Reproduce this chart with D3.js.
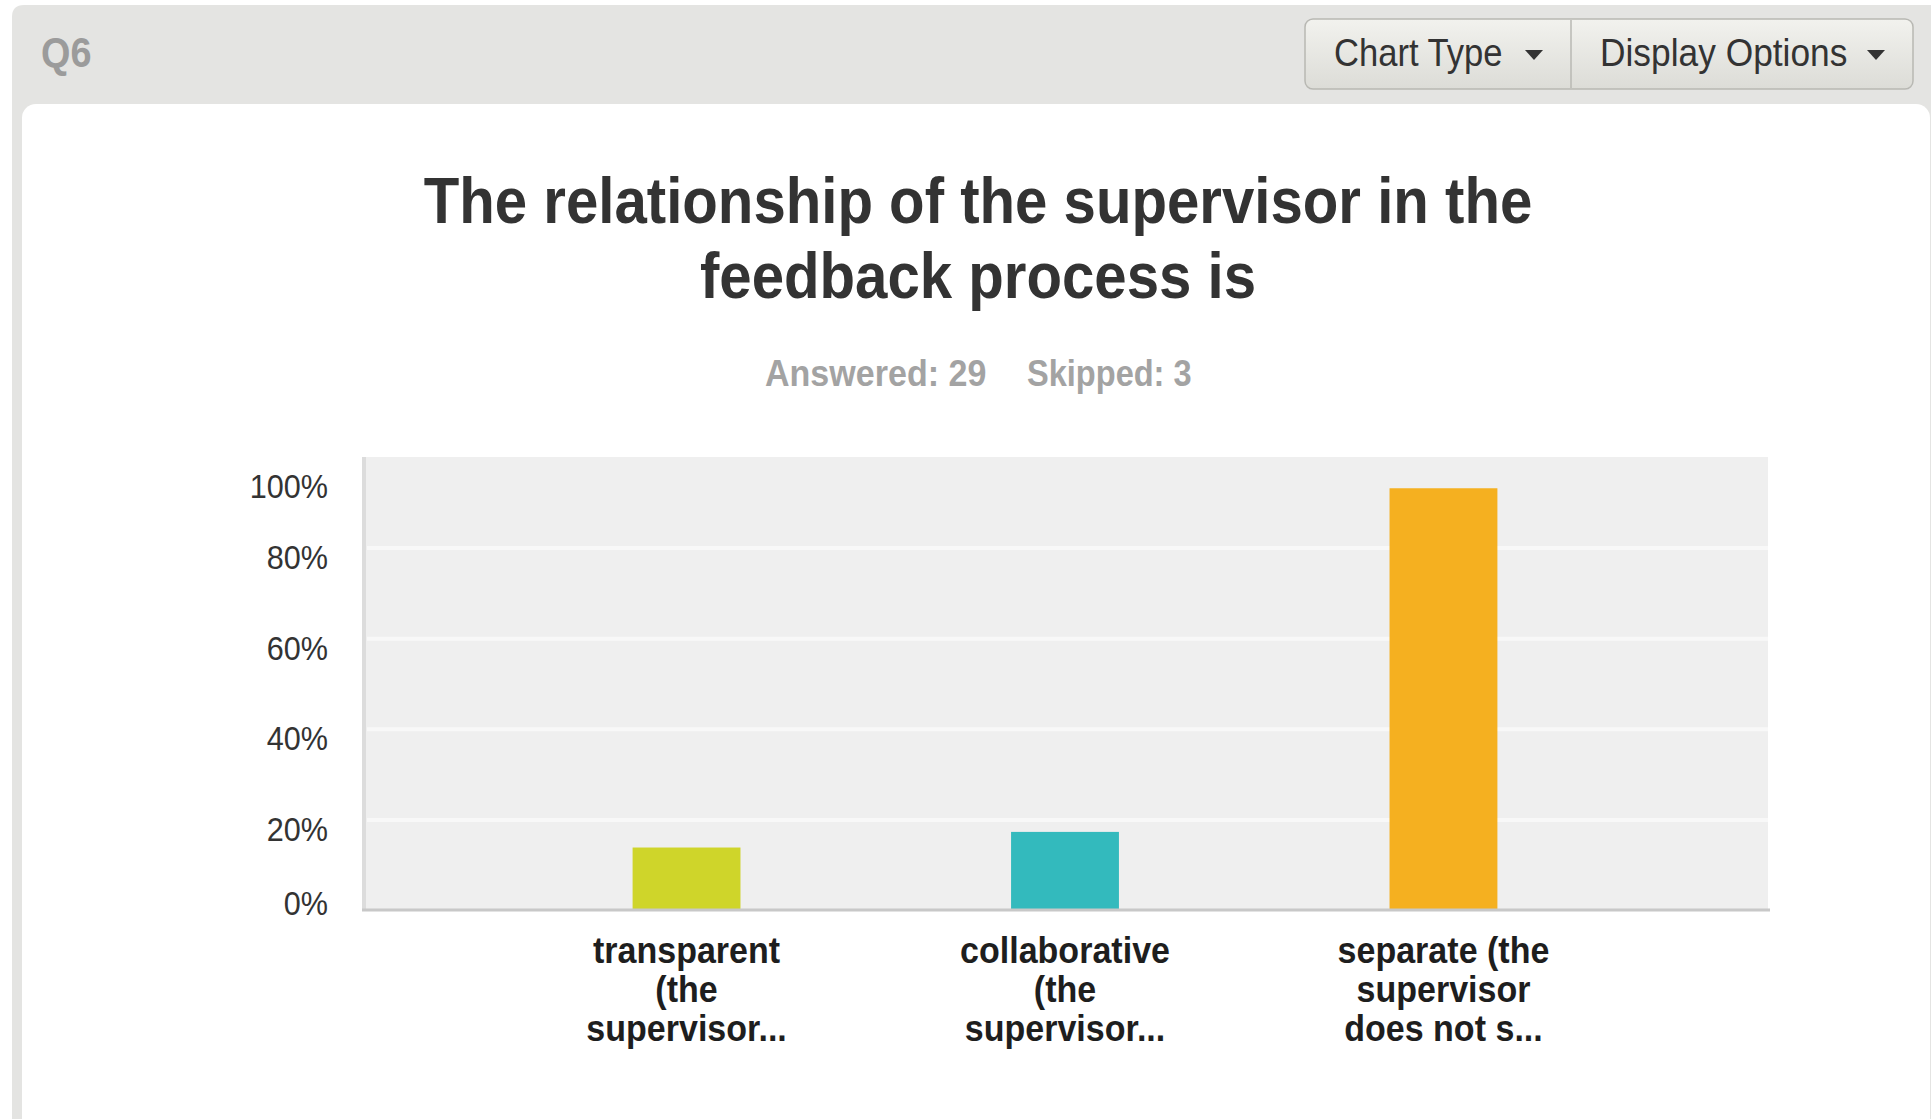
<!DOCTYPE html>
<html>
<head>
<meta charset="utf-8">
<title>Q6 – The relationship of the supervisor in the feedback process is</title>
<script src="https://cdnjs.cloudflare.com/ajax/libs/d3/7.8.5/d3.min.js"></script>
<style>
  html, body { margin: 0; padding: 0; background: #ffffff; }
  svg { display: block; }
  text { font-family: "Liberation Sans", Arial, Helvetica, sans-serif; }
</style>
</head>
<body>
<svg id="chart" width="1931" height="1119"></svg>
<script>
// ---- survey data ----
const questionId = "Q6";
const titleLines = ["The relationship of the supervisor in the", "feedback process is"];
const answeredCount = 29;
const skippedCount = 3;
const categories = [
  "transparent (the supervisor...",
  "collaborative (the supervisor...",
  "separate (the supervisor does not s..."
];
const categoryLines = [
  ["transparent", "(the", "supervisor..."],
  ["collaborative", "(the", "supervisor..."],
  ["separate (the", "supervisor", "does not s..."]
];
const responses = [4, 5, 27];
const percentValues = [13.79, 17.24, 93.10];
const barColors = ["#cfd52a", "#33babd", "#f5b020"];
const yTickValues = [0, 20, 40, 60, 80, 100];
const yTickLabels = ["0%", "20%", "40%", "60%", "80%", "100%"];
const buttonLabels = ["Chart Type", "Display Options"];

// ---- drawing ----
const W = 1931, H = 1119;
const SX = 0.9; // horizontal squeeze used by every label
const svg = d3.select("#chart");

// draw a squeezed text label anchored at (x, y)
function label(parent, x, y, str, o) {
  return parent.append("text")
    .attr("transform", `translate(${x},${y}) scale(${o.sx ?? SX},1)`)
    .attr("text-anchor", o.anchor || "start")
    .attr("font-size", o.size)
    .attr("font-weight", o.weight || "normal")
    .attr("fill", o.fill || "#333")
    .text(str);
}

const defs = svg.append("defs");
const grad = defs.append("linearGradient").attr("id", "btnGrad")
  .attr("x1", 0).attr("y1", 0).attr("x2", 0).attr("y2", 1);
grad.append("stop").attr("offset", "0%").attr("stop-color", "#f2f2ee");
grad.append("stop").attr("offset", "100%").attr("stop-color", "#dcdcd7");

// panel frame: grey header band with rounded top-left corner
svg.append("path")
  .attr("d", `M12,${H} L12,17 Q12,5 24,5 L${W},5 L${W},${H} Z`)
  .attr("fill", "#e4e4e2");

// white card under the header
svg.append("rect")
  .attr("x", 22).attr("y", 104)
  .attr("width", 1930 - 22).attr("height", H)
  .attr("rx", 14).attr("ry", 14)
  .attr("fill", "#ffffff");

// question number
label(svg, 41, 67, questionId, { size: 42, weight: "bold", fill: "#9b9b9b" });

// button group (Chart Type / Display Options)
const btn = svg.append("g");
btn.append("rect")
  .attr("x", 1305).attr("y", 19).attr("width", 608).attr("height", 70)
  .attr("rx", 8).attr("ry", 8)
  .attr("fill", "url(#btnGrad)")
  .attr("stroke", "#b8b8b3").attr("stroke-width", 1.5);
btn.append("line")
  .attr("x1", 1571).attr("x2", 1571).attr("y1", 20).attr("y2", 88)
  .attr("stroke", "#b8b8b3").attr("stroke-width", 1.5);
label(btn, 1334, 66, buttonLabels[0], { size: 38, fill: "#333", sx: 0.91 });
label(btn, 1600, 66, buttonLabels[1], { size: 38, fill: "#333", sx: 0.93 });
[1534, 1876].forEach(cx => {
  btn.append("path")
    .attr("d", `M${cx - 9},50 L${cx + 9},50 L${cx},60 Z`)
    .attr("fill", "#333");
});

// chart title
const titleX = 978;
titleLines.forEach((line, i) => {
  label(svg, titleX, 223 + i * 75, line, { size: 65, weight: "bold", anchor: "middle", sx: 0.895, fill: "#333" });
});

// answered / skipped summary
label(svg, 765, 386, `Answered: ${answeredCount}`, { size: 37, weight: "bold", fill: "#a3a3a3", sx: 0.92 });
label(svg, 1027, 386, `Skipped: ${skippedCount}`, { size: 37, weight: "bold", fill: "#a3a3a3", sx: 0.88 });

// ---- plot ----
const plot = { left: 362, right: 1768, top: 457, bottom: 910 };

const x = d3.scaleBand()
  .domain(categories)
  .range([plot.left, plot.right])
  .paddingInner(0.715)
  .paddingOuter(0.715);

const y = d3.scaleLinear()
  .domain([0, 100])
  .range([plot.bottom, plot.top]);

// plot background
svg.append("rect")
  .attr("x", plot.left).attr("y", plot.top)
  .attr("width", plot.right - plot.left).attr("height", plot.bottom - plot.top)
  .attr("fill", "#efefef");

// left edge of the plot
svg.append("line")
  .attr("x1", plot.left + 2).attr("x2", plot.left + 2)
  .attr("y1", plot.top).attr("y2", plot.bottom)
  .attr("stroke", "#dcdcdc").attr("stroke-width", 4);

// horizontal grid lines
const grid = svg.append("g")
  .attr("transform", `translate(${plot.left},0)`)
  .call(d3.axisLeft(y)
    .tickValues(yTickValues.filter(v => v > 0 && v < 100))
    .tickSize(-(plot.right - plot.left))
    .tickFormat(""));
grid.select(".domain").remove();
grid.selectAll(".tick line")
  .attr("x1", 5)
  .attr("stroke", "#f8f8f8").attr("stroke-width", 4);

// bars
svg.append("g").selectAll("rect")
  .data(categories)
  .join("rect")
  .attr("x", d => x(d))
  .attr("width", x.bandwidth())
  .attr("y", (d, i) => y(percentValues[i]))
  .attr("height", (d, i) => y(0) - y(percentValues[i]))
  .attr("fill", (d, i) => barColors[i]);

// y axis labels
const yAxis = svg.append("g")
  .attr("transform", `translate(${plot.left},0)`)
  .call(d3.axisLeft(y)
    .tickValues(yTickValues)
    .tickSize(0)
    .tickFormat((d, i) => yTickLabels[i]));
yAxis.select(".domain").remove();
yAxis.selectAll(".tick text")
  .attr("x", 0).attr("dy", null)
  .attr("text-anchor", "end")
  .attr("font-size", 34)
  .attr("fill", "#333")
  .attr("transform", d => {
    const shift = d === 0 ? 4 : (d === 100 ? 40 : 21);
    return `translate(-34,${shift}) scale(${SX},1)`;
  });

// x axis: baseline and wrapped category labels
const xAxis = svg.append("g")
  .attr("transform", `translate(0,${plot.bottom})`)
  .call(d3.axisBottom(x).tickSize(0).tickFormat(""));
xAxis.select(".domain")
  .attr("d", `M${plot.left},0H${plot.right + 2}`)
  .attr("stroke", "#c8c8c8").attr("stroke-width", 3);
xAxis.selectAll(".tick text").remove();
xAxis.selectAll(".tick").each(function (d, i) {
  const t = d3.select(this);
  categoryLines[i].forEach((line, j) => {
    label(t, 0, 53 + j * 39, line, { size: 37, weight: "bold", anchor: "middle", fill: "#1e1e1e", sx: 0.92 });
  });
});
</script>
</body>
</html>
